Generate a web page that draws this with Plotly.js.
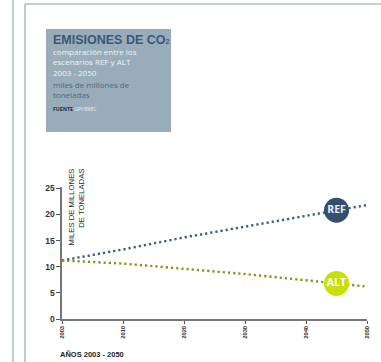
<!DOCTYPE html>
<html>
<head>
<meta charset="utf-8">
<script src="https://cdn.plot.ly/plotly-3.0.1.min.js"></script>
<style>html,body{margin:0;padding:0;background:#fff;}#chart{width:381px;height:362px;}</style>
</head>
<body>
<div id="chart"></div>
<script>
// ---- data ----
const years = ['2003', '2010', '2020', '2030', '2040', '2050'];
const refValues = [11.2, 13.3, 15.6, 17.7, 19.8, 21.8];
const altValues = [11.2, 10.6, 9.6, 8.6, 7.4, 6.2];
const yTicks = [0, 5, 10, 15, 20, 25];
const seriesNames = ['REF', 'ALT'];

// ---- layout geometry (pixels) ----
const W = 381, H = 362;
const M = {l: 62, r: 14, t: 187, b: 43};
const pw = W - M.l - M.r, ph = H - M.t - M.b;
const px = x => (x - M.l) / pw;
const py = y => (H - M.b - y) / ph;

const xIdx = years.map((_, i) => i);
const mid = arr => (arr[arr.length - 2] + arr[arr.length - 1]) / 2;
const labelX = (xIdx[xIdx.length - 2] + xIdx[xIdx.length - 1]) / 2;

const refLine = '#3d5a7c', refBadge = '#34506f';
const altLine = '#7d9a14', altBadge = '#c8e00a';

const traces = [
  {x: xIdx, y: refValues, type: 'scatter', mode: 'lines', name: seriesNames[0],
   line: {color: refLine, width: 2.4, dash: '2.2px,3px'}, hoverinfo: 'skip'},
  {x: xIdx, y: altValues, type: 'scatter', mode: 'lines', name: seriesNames[1],
   line: {color: altLine, width: 2.4, dash: '2.2px,3px'}, hoverinfo: 'skip'},
  {x: [labelX], y: [mid(refValues)], type: 'scatter', mode: 'markers+text',
   marker: {size: 25, color: refBadge}, text: [seriesNames[0]], textposition: 'middle center',
   textfont: {family: 'Open Sans, Arial, sans-serif', size: 10.5, color: '#e8eef4', weight: 'bold'}, hoverinfo: 'skip'},
  {x: [labelX], y: [mid(altValues)], type: 'scatter', mode: 'markers+text',
   marker: {size: 25, color: altBadge}, text: [seriesNames[1]], textposition: 'middle center',
   textfont: {family: 'Open Sans, Arial, sans-serif', size: 10.5, color: '#ffffff', weight: 'bold'}, hoverinfo: 'skip'}
];

const frameCol = '#aebdc9';
const font = 'Liberation Sans, Arial, sans-serif';
const boxFont = 'Open Sans, Arial, sans-serif';
const txt = (text, x, y, size, color, extra, fam) => Object.assign({
  text: text, xref: 'paper', yref: 'paper', x: px(x), y: py(y),
  xanchor: 'left', yanchor: 'middle', showarrow: false, align: 'left', borderpad: 0,
  font: {family: fam || boxFont, size: size, color: color}
}, extra || {});

const layout = {
  width: W, height: H,
  margin: M,
  paper_bgcolor: '#ffffff', plot_bgcolor: '#ffffff',
  showlegend: false,
  xaxis: {
    range: [0, xIdx[xIdx.length - 1]], tickvals: xIdx, ticktext: years,
    tickangle: -90, ticks: 'outside', ticklen: 3, tickwidth: 1, tickcolor: '#555',
    showline: true, linecolor: '#777', linewidth: 1.6, showgrid: false, zeroline: false,
    tickfont: {family: font, size: 5.8, color: '#333', weight: 'bold'}, fixedrange: true
  },
  yaxis: {
    range: [0, 25.25], tickvals: yTicks, ticks: 'outside', ticklen: 4, tickwidth: 1, tickcolor: '#555',
    showline: true, linecolor: '#777', linewidth: 1.6, showgrid: false, zeroline: false,
    tickfont: {family: font, size: 8.5, color: '#333', weight: 'bold'}, fixedrange: true
  },
  shapes: [
    {type: 'line', xref: 'paper', yref: 'paper', x0: px(13), x1: px(13), y0: py(0), y1: py(H), line: {color: frameCol, width: 1.6}},
    {type: 'line', xref: 'paper', yref: 'paper', x0: px(25), x1: px(25), y0: py(4), y1: py(H), line: {color: frameCol, width: 1.6}},
    {type: 'line', xref: 'paper', yref: 'paper', x0: px(25), x1: px(W), y0: py(4), y1: py(4), line: {color: frameCol, width: 1.6}},
    {type: 'rect', xref: 'paper', yref: 'paper', x0: px(46), x1: px(171), y0: py(29), y1: py(132), fillcolor: '#98adb9', line: {width: 0}, layer: 'below'}
  ],
  annotations: [
    txt('<b>EMISIONES DE CO<span style="font-size:7px">2</span></b>', 52, 39.8, 12.5, '#3b5878', null, 'Liberation Sans, Arial, sans-serif'),
    txt('comparación entre los<br>escenarios REF y ALT<br>2003 - 2050', 52, 62.2, 8, '#eef3f6'),
    txt('miles de millones de<br>toneladas', 52, 89.8, 8, '#4b6885'),
    txt('<b><span style="color:#1e2d3c">FUENTE</span></b> GPI/EREC', 52, 108.8, 5.2, '#e8eef2'),
    txt('MILES DE MILLONES<br>DE TONELADAS', 65.5, 168, 7.7, '#2a2a2a',
        {textangle: -90, yanchor: 'top', align: 'right'}, font),
    txt('AÑOS 2003 - 2050', 59, 354, 7.5, '#222', {font: {family: font, size: 7.5, color: '#222', weight: 'bold'}})
  ]
};

Plotly.newPlot('chart', traces, layout, {staticPlot: true, displayModeBar: false});
</script>
</body>
</html>
